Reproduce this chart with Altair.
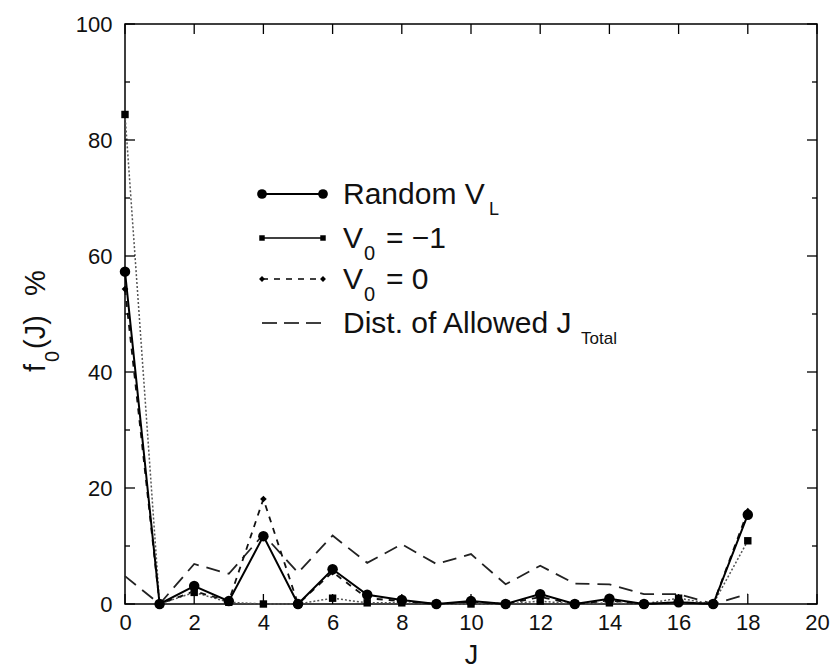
import altair as alt
import pandas as pd

# f0(J) distributions for J = 0..18
J = list(range(19))
random_vl = [57.3, 0, 3.1, 0.5, 11.7, 0, 6.0, 1.6, 0.7, 0, 0.5, 0, 1.7, 0, 0.9, 0, 0.3, 0, 15.4]
v0_minus1 = [84.4, 0, 2.0, 0.3, 0, 0, 1.0, 0.2, 0.2, 0, 0, 0, 0.5, 0, 0.2, 0, 1.0, 0, 10.9]
v0_zero = [54.3, 0, 2.2, 0.5, 18.1, 0, 5.5, 1.0, 0.5, 0, 0.4, 0, 1.2, 0, 0.6, 0, 0.3, 0, 16.0]
allowed_jtotal = [4.8, 0, 6.9, 5.2, 12.0, 5.4, 11.8, 7.1, 10.3, 6.9, 8.6, 3.4, 6.6, 3.5, 3.4, 1.7, 1.7, 0, 1.7]

x_ticks = list(range(0, 21, 2))
y_major = list(range(0, 101, 20))
y_minor = list(range(10, 100, 20))

W, H = 692, 580
FONT = "Liberation Sans"
INK = "#111111"

df = pd.DataFrame({
    "J": J,
    "random": random_vl,
    "vm1": v0_minus1,
    "v0": v0_zero,
    "allowed": allowed_jtotal,
})

xscale = alt.Scale(domain=[0, 20], nice=False, zero=False)
yscale = alt.Scale(domain=[0, 100], nice=False, zero=False)

x_axis = alt.Axis(values=x_ticks, format="d", title="J", ticks=False, domain=False,
                  grid=False, labelFontSize=22, labelPadding=8, titleFontSize=27,
                  titlePadding=9, titleFontWeight="normal", labelFlush=False)
y_axis = alt.Axis(values=y_major, format="d", title="", ticks=False, domain=False,
                  grid=False, labelFontSize=22, labelPadding=13, labelFlush=False)

base = alt.Chart(df)


def series(field, line_kw, point_kw=None):
    x = alt.X("J:Q", scale=xscale, axis=x_axis)
    y = alt.Y(f"{field}:Q", scale=yscale, axis=y_axis)
    out = [base.mark_line(**line_kw).encode(x=x, y=y)]
    if point_kw is not None:
        out.append(base.mark_point(**point_kw).encode(x=x, y=y))
    return out


layers = []
# distribution of allowed J_total: long dashes
layers += series("allowed", dict(color="#222222", strokeWidth=1.8, strokeDash=[14, 8]))
# V0 = -1: thin line with small squares
layers += series("vm1", dict(color="#555555", strokeWidth=1.5, strokeDash=[2, 2]),
                 dict(shape="square", size=55, filled=True, color="black", opacity=1))
# V0 = 0: short dashes with small diamonds
layers += series("v0", dict(color="#111111", strokeWidth=1.8, strokeDash=[6, 6]),
                 dict(shape="diamond", size=45, filled=True, color="black", opacity=1))
# random V_L: solid line with filled circles
layers += series("random", dict(color="black", strokeWidth=2),
                 dict(shape="circle", size=110, filled=True, color="black", opacity=1))

# inward ticks on all four sides
xt = pd.DataFrame({"t": x_ticks})
ymaj = pd.DataFrame({"t": y_major})
ymin = pd.DataFrame({"t": y_minor})
tick_style = dict(color="black", strokeWidth=1.3)
for d, ln in ((ymaj, 10), (ymin, 5)):
    yy = alt.Y("t:Q", scale=yscale, axis=y_axis)
    layers.append(alt.Chart(d).mark_rule(**tick_style).encode(y=yy, x=alt.value(0), x2=alt.value(ln)))
    layers.append(alt.Chart(d).mark_rule(**tick_style).encode(y=yy, x=alt.value(W), x2=alt.value(W - ln)))
xx = alt.X("t:Q", scale=xscale, axis=x_axis)
layers.append(alt.Chart(xt).mark_rule(**tick_style).encode(x=xx, y=alt.value(H), y2=alt.value(H - 10)))
layers.append(alt.Chart(xt).mark_rule(**tick_style).encode(x=xx, y=alt.value(0), y2=alt.value(10)))

one = pd.DataFrame({"k": [0]})
leg = alt.Chart(one)


def txt(s, px, py, size, dx=0, dy=0, angle=0):
    kw = dict(text=s, font=FONT, fontSize=size, align="left", baseline="alphabetic",
              color=INK, dx=dx, dy=dy)
    if angle:
        kw["angle"] = angle
    return leg.mark_text(**kw).encode(x=alt.value(px), y=alt.value(py))


# y-axis title f_0(J) %, reading bottom to top
TX, TY = -80, 348
layers.append(txt("f", TX, TY, 29, angle=270))
layers.append(txt("0", TX, TY, 20, dx=10, dy=14, angle=270))
layers.append(txt("(J)", TX, TY, 29, dx=23, angle=270))
layers.append(txt("%", TX, TY, 29, dx=76, angle=270))

# legend block
rows_y = [170, 214, 255, 299]
lx1, lx2, tx = 137, 198, 218


def leg_line(row, **kw):
    return leg.mark_rule(**kw).encode(x=alt.value(lx1), x2=alt.value(lx2),
                                      y=alt.value(rows_y[row]))


def leg_pts(row, **kw):
    return [leg.mark_point(**kw).encode(x=alt.value(px), y=alt.value(rows_y[row])) for px in (lx1, lx2)]


layers.append(leg_line(0, color="black", strokeWidth=2))
layers += leg_pts(0, shape="circle", size=95, filled=True, color="black", opacity=1)
layers.append(leg_line(1, color="black", strokeWidth=1.6))
layers += leg_pts(1, shape="square", size=30, filled=True, color="black", opacity=1)
layers.append(leg_line(2, color="black", strokeWidth=1.6, strokeDash=[6, 6]))
layers += leg_pts(2, shape="diamond", size=35, filled=True, color="black", opacity=1)
layers.append(leg_line(3, color="black", strokeWidth=1.6, strokeDash=[15, 7]))

MAIN = 30
layers.append(txt("Random V", tx, rows_y[0], MAIN, dy=10))
layers.append(txt("L", tx + 146, rows_y[0], 18, dy=21))
layers.append(txt("V", tx, rows_y[1], MAIN, dy=10))
layers.append(txt("0", tx + 21, rows_y[1], 20, dy=22))
layers.append(txt("= \u22121", tx + 43, rows_y[1], MAIN, dy=10))
layers.append(txt("V", tx, rows_y[2], MAIN, dy=10))
layers.append(txt("0", tx + 21, rows_y[2], 20, dy=22))
layers.append(txt("= 0", tx + 43, rows_y[2], MAIN, dy=10))
layers.append(txt("Dist. of Allowed J", tx, rows_y[3], MAIN, dy=10))
layers.append(txt("Total", tx + 238, rows_y[3], 17, dy=21))

chart = (
    alt.layer(*layers)
    .properties(
        width=W,
        height=H,
        padding={"left": 125, "top": 24, "right": 16, "bottom": 67},
        autosize=alt.AutoSizeParams(type="none"),
        background="white",
    )
    .configure_view(stroke="black", strokeWidth=1.5)
    .configure_axis(labelFont=FONT, titleFont=FONT, labelColor=INK, titleColor=INK)
)

chart.save("out.html", embed_options={"renderer": "svg", "actions": False})
